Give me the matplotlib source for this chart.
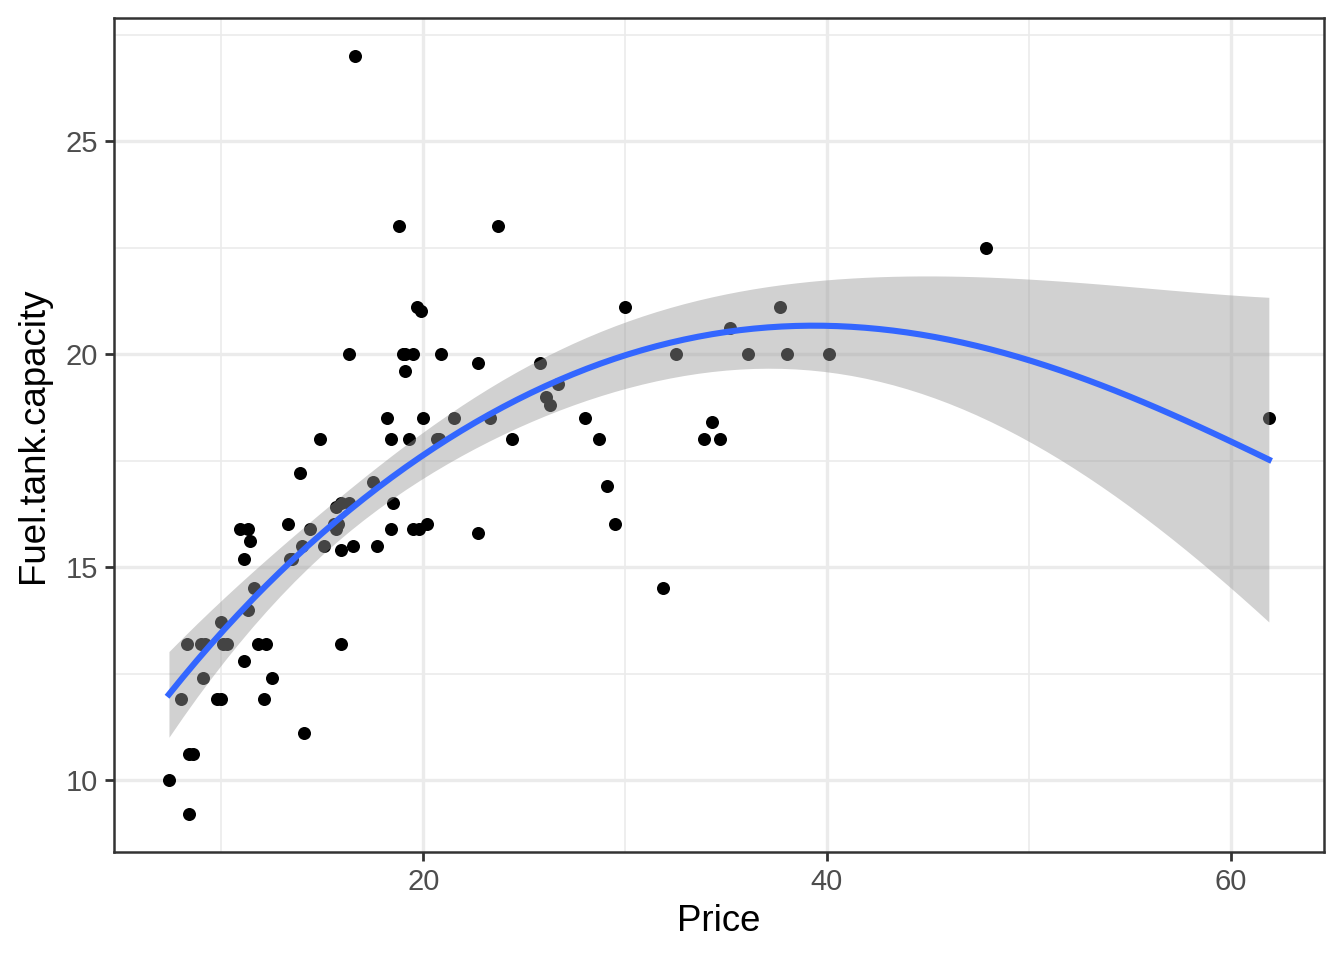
import numpy as np
import matplotlib
matplotlib.use("Agg")
import matplotlib.pyplot as plt
from matplotlib.ticker import MultipleLocator

plt.rcParams['font.family'] = ['Liberation Sans', 'DejaVu Sans']

# Cars93: Price vs Fuel.tank.capacity
price = [15.9, 33.9, 29.1, 37.7, 30.0, 15.7, 20.8, 23.7, 26.3, 34.7,
         40.1, 13.4, 11.4, 15.1, 15.9, 16.3, 16.6, 18.8, 38.0, 18.4,
         15.8, 29.5, 9.2, 11.3, 13.3, 19.0, 15.6, 25.8, 12.2, 19.3,
         7.4, 10.1, 11.3, 15.9, 14.0, 19.9, 20.2, 20.9, 8.4, 12.5,
         19.8, 12.1, 17.5, 8.0, 10.0, 10.0, 13.9, 47.9, 28.0, 35.2,
         34.3, 36.1, 8.3, 11.6, 16.5, 19.1, 32.5, 31.9, 61.9, 14.1,
         14.9, 10.3, 26.1, 11.8, 15.7, 19.1, 21.5, 13.5, 16.3, 19.5,
         20.7, 14.4, 9.0, 11.1, 17.7, 18.5, 24.4, 28.7, 11.1, 8.4,
         10.9, 19.5, 8.6, 9.8, 18.4, 18.2, 22.7, 9.1, 19.7, 20.0,
         23.3, 22.7, 26.7]
fuel = [13.2, 18.0, 16.9, 21.1, 21.1, 16.4, 18.0, 23.0, 18.8, 18.0,
        20.0, 15.2, 15.6, 15.5, 16.5, 20.0, 27.0, 23.0, 20.0, 18.0,
        16.0, 16.0, 13.2, 14.0, 16.0, 20.0, 16.0, 19.8, 13.2, 18.0,
        10.0, 13.2, 15.9, 15.4, 15.5, 21.0, 16.0, 20.0, 10.6, 12.4,
        15.9, 11.9, 17.0, 11.9, 13.7, 11.9, 17.2, 22.5, 18.5, 20.6,
        18.4, 20.0, 13.2, 14.5, 15.5, 19.6, 20.0, 14.5, 18.5, 11.1,
        18.0, 13.2, 19.0, 13.2, 15.9, 20.0, 18.5, 15.2, 16.5, 20.0,
        18.0, 15.9, 13.2, 15.2, 15.5, 16.5, 18.0, 18.0, 12.8, 9.2,
        15.9, 15.9, 10.6, 11.9, 15.9, 18.5, 19.8, 12.4, 21.1, 18.5,
        18.5, 15.8, 19.3]

x = np.array(price)
y = np.array(fuel)
n = len(x)
span = 1.5


def loess_rows(x0):
    # local quadratic smoother with tricube weights over the whole range
    rows = []
    h = (x.max() - x.min()) * span
    for v in np.atleast_1d(x0):
        u = np.clip(np.abs(x - v) / h, 0, 1)
        w = (1 - u ** 3) ** 3
        B = np.column_stack([np.ones(n), x - v, (x - v) ** 2])
        BW = B.T * w
        rows.append(np.linalg.solve(BW @ B, BW)[0])
    return np.array(rows)


L = loess_rows(x)
IL = np.eye(n) - L
one_delta = np.trace(IL.T @ IL)
s = np.sqrt(((y - L @ y) ** 2).sum() / one_delta)
t975 = 1.987

xs = np.linspace(x.min(), x.max(), 80)
Ls = loess_rows(xs)
fit = Ls @ y
se = s * np.sqrt((Ls ** 2).sum(axis=1))
lo = fit - t975 * se
hi = fit + t975 * se

fig = plt.figure(figsize=(6.72, 4.8), dpi=200)
ax = fig.add_axes([0.0848, 0.1125, 0.9002, 0.8688])

ax.scatter(x, y, s=22, color='black', linewidths=0, zorder=2)
ax.fill_between(xs, lo, hi, color='#999999', alpha=0.45, linewidth=0, zorder=3)
ax.plot(xs, fit, color='#3366FF', linewidth=2.2, zorder=4)

xr = x.max() - x.min()
ax.set_xlim(x.min() - 0.05 * xr, x.max() + 0.05 * xr)
ymin, ymax = min(y.min(), lo.min()), max(y.max(), hi.max())
yr = ymax - ymin
ax.set_ylim(ymin - 0.05 * yr, ymax + 0.05 * yr)

ax.xaxis.set_major_locator(MultipleLocator(20))
ax.xaxis.set_minor_locator(MultipleLocator(10))
ax.yaxis.set_major_locator(MultipleLocator(5))
ax.yaxis.set_minor_locator(MultipleLocator(2.5))

ax.grid(which='major', color='#EBEBEB', linewidth=1.2, zorder=0)
ax.grid(which='minor', color='#EBEBEB', linewidth=0.6, zorder=0)
ax.set_axisbelow(True)

for sp in ax.spines.values():
    sp.set_color('#333333')
    sp.set_linewidth(0.9)

ax.tick_params(which='major', length=3.3, width=1.0, color='#333333',
               labelsize=10.5, labelcolor='#4D4D4D', pad=2.5)
ax.tick_params(which='minor', length=0)

ax.set_xlabel('Price', fontsize=13.2, color='black', labelpad=3)
ax.set_ylabel('Fuel.tank.capacity', fontsize=13.2, color='black', labelpad=5)

fig.savefig('out.png', dpi=200)
